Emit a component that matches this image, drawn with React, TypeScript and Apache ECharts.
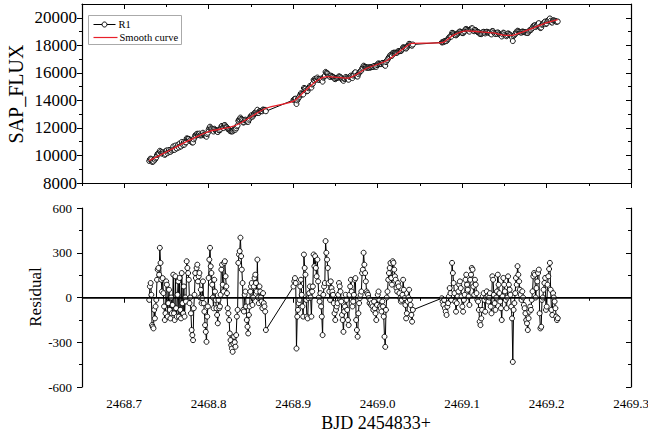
import React, { useEffect, useRef } from 'react';
import * as echarts from 'echarts';

const FONT = '"Liberation Serif", "Times New Roman", Times, serif';

// x range and ticks
const xMin = 2468.65;
const xMax = 2469.3;
const xMajorTicks = [2468.7, 2468.8, 2468.9, 2469.0, 2469.1, 2469.2, 2469.3];
const xMinorTicks = [2468.65, 2468.75, 2468.85, 2468.95, 2469.05, 2469.15, 2469.25];

const fluxMajorTicks = [8000, 10000, 12000, 14000, 16000, 18000, 20000];
const fluxMinorTicks = [9000, 11000, 13000, 15000, 17000, 19000];
const resMajorTicks = [-600, -300, 0, 300, 600];
const resMinorTicks = [-450, -150, 150, 450];

const legendNames = ['R1', 'Smooth curve'];

// observation segments (start, end BJD-2454833), evenly sampled cadence
const seg1Time = [2468.7296, 2468.8677];
const seg2Time = [2468.9004, 2469.0417];
const seg3Time = [2469.076, 2469.2133];

const seg1Flux = [
  9600, 9720, 9770, 9720, 9540, 9550, 9570, 9720, 9690, 9790,
  9860, 10030, 10120, 10160, 10140, 10340, 10270, 10180, 10130, 10240,
  10170, 10110, 10040, 10110, 10350, 10360, 10170, 10280, 10400, 10290,
  10260, 10430, 10350, 10430, 10660, 10420, 10410, 10720, 10540, 10510,
  10680, 10790, 10580, 10870, 10680, 10650, 10980, 10800, 10760, 10970,
  10790, 10950, 10950, 11240, 11220, 11210, 11200, 11060, 11130, 11050,
  10960, 10950, 10940, 11170, 11290, 11460, 11450, 11540, 11580, 11490,
  11550, 11590, 11450, 11530, 11460, 11520, 11650, 11530, 11500, 11430,
  11410, 11360, 11550, 11650, 11860, 12000, 12090, 11980, 11940, 11880,
  11800, 11740, 11940, 11870, 11820, 11780, 11740, 11700, 11860, 11820,
  11840, 11930, 12110, 12150, 12030, 11990, 12190, 12210, 12120, 12060,
  12030, 11940, 11910, 11880, 11800, 11760, 11750, 11750, 11750, 11820,
  11900, 11880, 11870, 11970, 12110, 12180, 12510, 12590, 12630, 12750,
  12660, 12600, 12540, 12390, 12410, 12550, 12600, 12530, 12470, 12450,
  12440, 12590, 12680, 12810, 12870, 12930, 12810, 12890, 12990, 13080,
  13130, 13110, 13080, 13320, 13100, 13090, 13230, 13230, 13220, 13220,
  13210, 13340, 13300, 13310, 13310, 13210,
];
const seg2Flux = [
  14030, 14080, 14120, 14120, 13740, 14000, 14110, 14200, 14270, 14410,
  14520, 14470, 14440, 14430, 14900, 14860, 14850, 14720, 14660, 14690,
  14880, 14950, 15040, 15010, 14930, 15150, 15220, 15490, 15450, 15570,
  15530, 15510, 15660, 15560, 15490, 15490, 15570, 15500, 15460, 15360,
  15650, 15720, 15770, 16070, 16010, 15980, 15930, 15820, 15760, 15700,
  15800, 15750, 15730, 15710, 15650, 15580, 15540, 15610, 15630, 15650,
  15670, 15750, 15720, 15690, 15620, 15530, 15500, 15420, 15560, 15590,
  15700, 15660, 15600, 15530, 15500, 15700, 15750, 15800, 15720, 15620,
  15800, 15880, 16010, 16040, 15790, 15750, 15730, 15910, 16010, 16080,
  16120, 16170, 16320, 16380, 16520, 16460, 16430, 16410, 16370, 16380,
  16390, 16390, 16370, 16410, 16400, 16430, 16430, 16430, 16500, 16480,
  16460, 16440, 16560, 16650, 16690, 16650, 16630, 16640, 16640, 16720,
  16720, 16670, 16560, 16510, 16780, 16880, 16940, 17050, 17130, 17210,
  17300, 17240, 17240, 17430, 17460, 17460, 17450, 17470, 17450, 17470,
  17560, 17570, 17570, 17580, 17590, 17640, 17720, 17860, 17830, 17820,
  17810, 17760, 17830, 17950, 18020, 18110, 18070, 18060, 18000, 17970,
  18060,
];
const seg3Flux = [
  18210, 18220, 18230, 18300, 18280, 18300, 18310, 18400, 18460, 18550,
  18630, 18640, 18630, 18910, 18880, 18850, 18800, 18760, 18720, 18790,
  18850, 18900, 18970, 19010, 18970, 18940, 18890, 18880, 18970, 19020,
  19160, 19190, 19130, 19090, 19050, 18990, 19160, 19190, 19240, 19230,
  19070, 19020, 19120, 19090, 19030, 18980, 18970, 18920, 18840, 18820,
  18810, 18870, 18960, 18980, 18930, 18860, 18950, 18990, 18960, 18920,
  18900, 18930, 18840, 18790, 19040, 19020, 18920, 18860, 18820, 18900,
  18830, 18940, 18880, 18820, 18760, 18720, 18640, 18800, 18920, 18880,
  18770, 18710, 18660, 18730, 18870, 18820, 18780, 18750, 18670, 18590,
  18310, 18680, 18740, 18820, 18940, 18920, 19060, 19020, 18990, 18950,
  18940, 18920, 19000, 18990, 18960, 18960, 18940, 18920, 18920, 18890,
  18990, 19060, 19120, 19120, 19200, 19280, 19400, 19440, 19450, 19330,
  19410, 19480, 19560, 19610, 19330, 19250, 19290, 19490, 19530, 19610,
  19680, 19730, 19550, 19590, 19760, 19830, 19890, 19950, 19780, 19670,
  19650, 19810, 19800, 19790, 19760, 19720, 19710, 19730,
];

const seg1Res = [
  -16, 74, 97, 18, -185, -196, -207, -83, -140, -60,
  -16, 119, 187, 198, 153, 333, 232, 119, 40, 130,
  29, -60, -151, -106, 108, 86, -128, -38, 52, -83,
  -140, 0, -106, -50, 153, -106, -151, 142, -72, -128,
  18, 108, -128, 131, -83, -140, 164, -38, -106, 74,
  -128, 0, -27, 243, 198, 164, 119, -38, 0, -106,
  -218, -252, -286, -72, 18, 164, 131, 198, 220, 108,
  142, 164, 0, 52, -38, -4, 108, -38, -94, -185,
  -230, -297, -128, -60, 131, 254, 333, 209, 164, 86,
  0, -72, 119, 40, -16, -72, -117, -173, -16, -72,
  -60, 18, 187, 220, 86, 40, 232, 243, 142, 74,
  29, -72, -106, -151, -241, -286, -320, -342, -364, -309,
  -263, -300, -330, -252, -128, -83, 232, 288, 311, 401,
  277, 187, 97, -83, -94, 18, 40, -60, -151, -196,
  -241, -117, -60, 40, 74, 97, -50, 0, 74, 131,
  153, 97, 40, 254, 0, -38, 74, 40, 0, -27,
  -72, 29, -38, -60, -94, -218,
];
const seg2Res = [
  74, 108, 130, 97, -342, -128, -83, -38, -16, 74,
  119, 18, -60, -128, 288, 198, 153, -16, -128, -140,
  -4, 29, 74, 0, -128, 40, 74, 288, 209, 277,
  198, 142, 254, 108, 0, -27, 29, -60, -128, -252,
  18, 74, 97, 378, 300, 254, 198, 97, 40, -16,
  108, 63, 40, 18, -38, -106, -151, -83, -60, -38,
  18, 97, 74, 40, -27, -117, -151, -230, -94, -60,
  18, -16, -83, -151, -185, 18, 74, 119, 40, -60,
  -27, 18, 119, 130, -151, -218, -263, -106, -38, -4,
  18, 40, 164, 187, 300, 220, 164, 108, 40, 29,
  18, -4, -38, -16, -50, -38, -60, -83, -27, -72,
  -106, -151, -50, 18, 40, -16, -60, -72, -94, -27,
  -60, -128, -263, -331, -83, 0, 40, 119, 164, 198,
  232, 131, 86, 243, 232, 187, 142, 119, 63, 40,
  97, 74, 29, -4, -27, -16, 18, 119, 52, -4,
  -50, -140, -106, -27, 0, 52, -16, -50, -117, -162,
  -83,
];
const seg3Res = [
  -5, -27, -50, -16, -72, -95, -117, -61, -38, 7,
  63, 29, -16, 232, 164, 97, 29, -27, -95, -38,
  7, 41, 86, 108, 63, 7, -61, -95, -16, 18,
  119, 153, 86, 52, 7, -50, 119, 153, 198, 187,
  74, 18, 119, 86, 29, -16, -27, -83, -162, -185,
  -140, -83, 7, 29, -16, -95, 0, 41, 7, -27,
  0, 29, -61, -106, 142, 119, 18, -38, -83, 0,
  41, 153, 86, 29, -27, -72, -151, 7, 131, 86,
  41, -16, -72, 0, 142, 86, 52, 18, -61, -140,
  -432, -83, -38, 29, 131, 86, 210, 153, 108, 52,
  18, -16, 41, 0, -50, -72, -106, -151, -173, -218,
  -140, -95, -61, -83, -16, 41, 142, 164, 153, 0,
  63, 108, 164, 187, -106, -207, -196, -16, 0, 52,
  97, 131, -83, -61, 86, 142, 191, 232, 52, -83,
  -117, 29, 0, -27, -72, -128, -151, -139,
];

// smooth curve read at knots
const smoothX = [
  2468.7296, 2468.7544, 2468.7781, 2468.8006, 2468.8254, 2468.8373, 2468.868,
  2468.9004, 2468.9142, 2468.9296, 2468.9402, 2468.9639, 2468.9876, 2469.0112,
  2469.0385, 2469.0417, 2469.076, 2469.0897, 2469.1056, 2469.1213, 2469.1367,
  2469.1485, 2469.1592, 2469.1686, 2469.184, 2469.2006, 2469.2133,
];
const smoothY = [
  9620, 10400, 11130, 11750, 12050, 12340, 13430,
  13950, 14700, 15500, 15730, 15610, 16350, 16900,
  18110, 18140, 18190, 18740, 19050, 18980, 18900,
  18740, 18720, 18900, 19250, 19650, 19870,
];

function segment(span: number[], values: number[]) {
  const n = values.length;
  return values.map((v, i) => [span[0] + ((span[1] - span[0]) * i) / (n - 1), v]);
}

const fluxData = [
  ...segment(seg1Time, seg1Flux),
  ...segment(seg2Time, seg2Flux),
  ...segment(seg3Time, seg3Flux),
];
const resData = [
  ...segment(seg1Time, seg1Res),
  ...segment(seg2Time, seg2Res),
  ...segment(seg3Time, seg3Res),
];
const smoothData = smoothX.map((x, i) => [x, smoothY[i]]);

const RED = '#e8202a';
const LINE = { color: '#000', width: 1.2 };

function xAxes(gridIndex: number, showLabels: boolean) {
  const base = { type: 'value', gridIndex, min: xMin, max: xMax, splitLine: { show: false } };
  return [
    {
      ...base,
      position: 'bottom',
      axisLine: { show: true, lineStyle: LINE },
      axisTick: { show: true, customValues: xMajorTicks, length: 5, inside: false, lineStyle: { color: '#000', width: 1 } },
      axisLabel: {
        show: showLabels,
        customValues: xMajorTicks,
        formatter: (v: number) => v.toFixed(1),
        fontFamily: FONT,
        fontSize: 13,
        color: '#000',
        margin: 10,
      },
    },
    {
      ...base,
      position: 'bottom',
      axisLine: { show: false },
      axisTick: { show: true, customValues: xMinorTicks, length: 3, inside: false, lineStyle: { color: '#000', width: 1 } },
      axisLabel: { show: false },
    },
    {
      ...base,
      position: 'top',
      axisLine: { show: true, lineStyle: LINE },
      axisTick: { show: true, customValues: xMajorTicks, length: 5, inside: true, lineStyle: { color: '#000', width: 1 } },
      axisLabel: { show: false },
    },
    {
      ...base,
      position: 'top',
      axisLine: { show: false },
      axisTick: { show: true, customValues: xMinorTicks, length: 3, inside: true, lineStyle: { color: '#000', width: 1 } },
      axisLabel: { show: false },
    },
  ];
}

function yAxes(gridIndex: number, min: number, max: number, major: number[], minor: number[], fontSize: number, margin: number) {
  const base = { type: 'value', gridIndex, min, max, splitLine: { show: false } };
  return [
    {
      ...base,
      position: 'left',
      axisLine: { show: true, lineStyle: LINE },
      axisTick: { show: true, customValues: major, length: 5, inside: false, lineStyle: { color: '#000', width: 1 } },
      axisLabel: {
        show: true,
        customValues: major,
        formatter: (v: number) => String(v),
        fontFamily: FONT,
        fontSize,
        color: '#000',
        margin,
      },
    },
    {
      ...base,
      position: 'left',
      axisLine: { show: false },
      axisTick: { show: true, customValues: minor, length: 3, inside: false, lineStyle: { color: '#000', width: 1 } },
      axisLabel: { show: false },
    },
    {
      ...base,
      position: 'right',
      axisLine: { show: true, lineStyle: LINE },
      axisTick: { show: true, customValues: major, length: 5, inside: true, lineStyle: { color: '#000', width: 1 } },
      axisLabel: { show: false },
    },
    {
      ...base,
      position: 'right',
      axisLine: { show: false },
      axisTick: { show: true, customValues: minor, length: 3, inside: true, lineStyle: { color: '#000', width: 1 } },
      axisLabel: { show: false },
    },
  ];
}

const legendGraphic = {
  type: 'group',
  left: 88,
  top: 15,
  children: [
    { type: 'rect', shape: { x: 0, y: 0, width: 93, height: 29 }, style: { fill: '#fff', stroke: '#aaa', lineWidth: 1 }, z: 10 },
    { type: 'line', shape: { x1: 5, y1: 9, x2: 27, y2: 9 }, style: { stroke: '#000', lineWidth: 1 }, z: 11 },
    { type: 'circle', shape: { cx: 16, cy: 9, r: 2.5 }, style: { fill: '#fff', stroke: '#000', lineWidth: 1 }, z: 12 },
    {
      type: 'text',
      x: 30,
      y: 9,
      style: { text: legendNames[0], fontFamily: FONT, fontSize: 10.5, fill: '#000', align: 'left', verticalAlign: 'middle' },
      z: 12,
    },
    { type: 'line', shape: { x1: 5, y1: 22, x2: 29, y2: 22 }, style: { stroke: RED, lineWidth: 1.2 }, z: 11 },
    {
      type: 'text',
      x: 31,
      y: 22,
      style: { text: legendNames[1], fontFamily: FONT, fontSize: 10.5, fill: '#000', align: 'left', verticalAlign: 'middle' },
      z: 12,
    },
  ],
};

const option = {
  animation: false,
  backgroundColor: '#fff',
  textStyle: { fontFamily: FONT },
  grid: [
    { left: 82, right: 17, top: 4, height: 179, outerBoundsMode: 'none', containLabel: false },
    { left: 82, right: 17, top: 208, height: 179, outerBoundsMode: 'none', containLabel: false },
  ],
  xAxis: [...xAxes(0, false), ...xAxes(1, true)],
  yAxis: [
    ...yAxes(0, 8000, 21000, fluxMajorTicks, fluxMinorTicks, 17, 5),
    ...yAxes(1, -600, 600, resMajorTicks, resMinorTicks, 13, 10),
  ],
  graphic: [
    legendGraphic,
    {
      type: 'text',
      x: 16,
      y: 94,
      rotation: Math.PI / 2,
      style: { text: 'SAP_FLUX', fontFamily: FONT, fontSize: 20, fill: '#000', align: 'center', verticalAlign: 'middle' },
    },
    {
      type: 'text',
      x: 35,
      y: 297,
      rotation: Math.PI / 2,
      style: { text: 'Residual', fontFamily: FONT, fontSize: 17, fill: '#000', align: 'center', verticalAlign: 'middle' },
    },
    {
      type: 'text',
      x: 376,
      y: 423,
      style: { text: 'BJD 2454833+', fontFamily: FONT, fontSize: 18, fill: '#000', align: 'center', verticalAlign: 'middle' },
    },
  ],
  series: [
    {
      name: legendNames[0],
      type: 'line',
      xAxisIndex: 0,
      yAxisIndex: 0,
      data: fluxData,
      symbol: 'circle',
      symbolSize: 5,
      showSymbol: true,
      itemStyle: { color: '#fff', borderColor: '#000', borderWidth: 0.9 },
      lineStyle: { color: '#000', width: 1 },
      emphasis: { disabled: true },
      z: 2,
    },
    {
      name: legendNames[1],
      type: 'line',
      xAxisIndex: 0,
      yAxisIndex: 0,
      data: smoothData,
      symbol: 'none',
      smooth: 0.3,
      lineStyle: { color: RED, width: 1.3 },
      itemStyle: { color: RED },
      emphasis: { disabled: true },
      z: 3,
    },
    {
      name: 'Residual',
      type: 'line',
      xAxisIndex: 4,
      yAxisIndex: 4,
      data: resData,
      symbol: 'circle',
      symbolSize: 5,
      showSymbol: true,
      itemStyle: { color: '#fff', borderColor: '#000', borderWidth: 0.9 },
      lineStyle: { color: '#000', width: 1 },
      emphasis: { disabled: true },
      z: 2,
      markLine: {
        silent: true,
        symbol: ['none', 'none'],
        label: { show: false },
        lineStyle: { color: '#000', width: 1.6, type: 'solid' },
        emphasis: { disabled: true },
        data: [{ yAxis: 0 }],
      },
    },
  ],
};

export default function App() {
  const ref = useRef<HTMLDivElement>(null);
  useEffect(() => {
    document.body.style.margin = '0';
    const chart = echarts.init(ref.current as HTMLDivElement, undefined, { renderer: 'svg' });
    chart.setOption(option as any);
    return () => chart.dispose();
  }, []);
  return <div ref={ref} style={{ width: 648, height: 442 }} />;
}
